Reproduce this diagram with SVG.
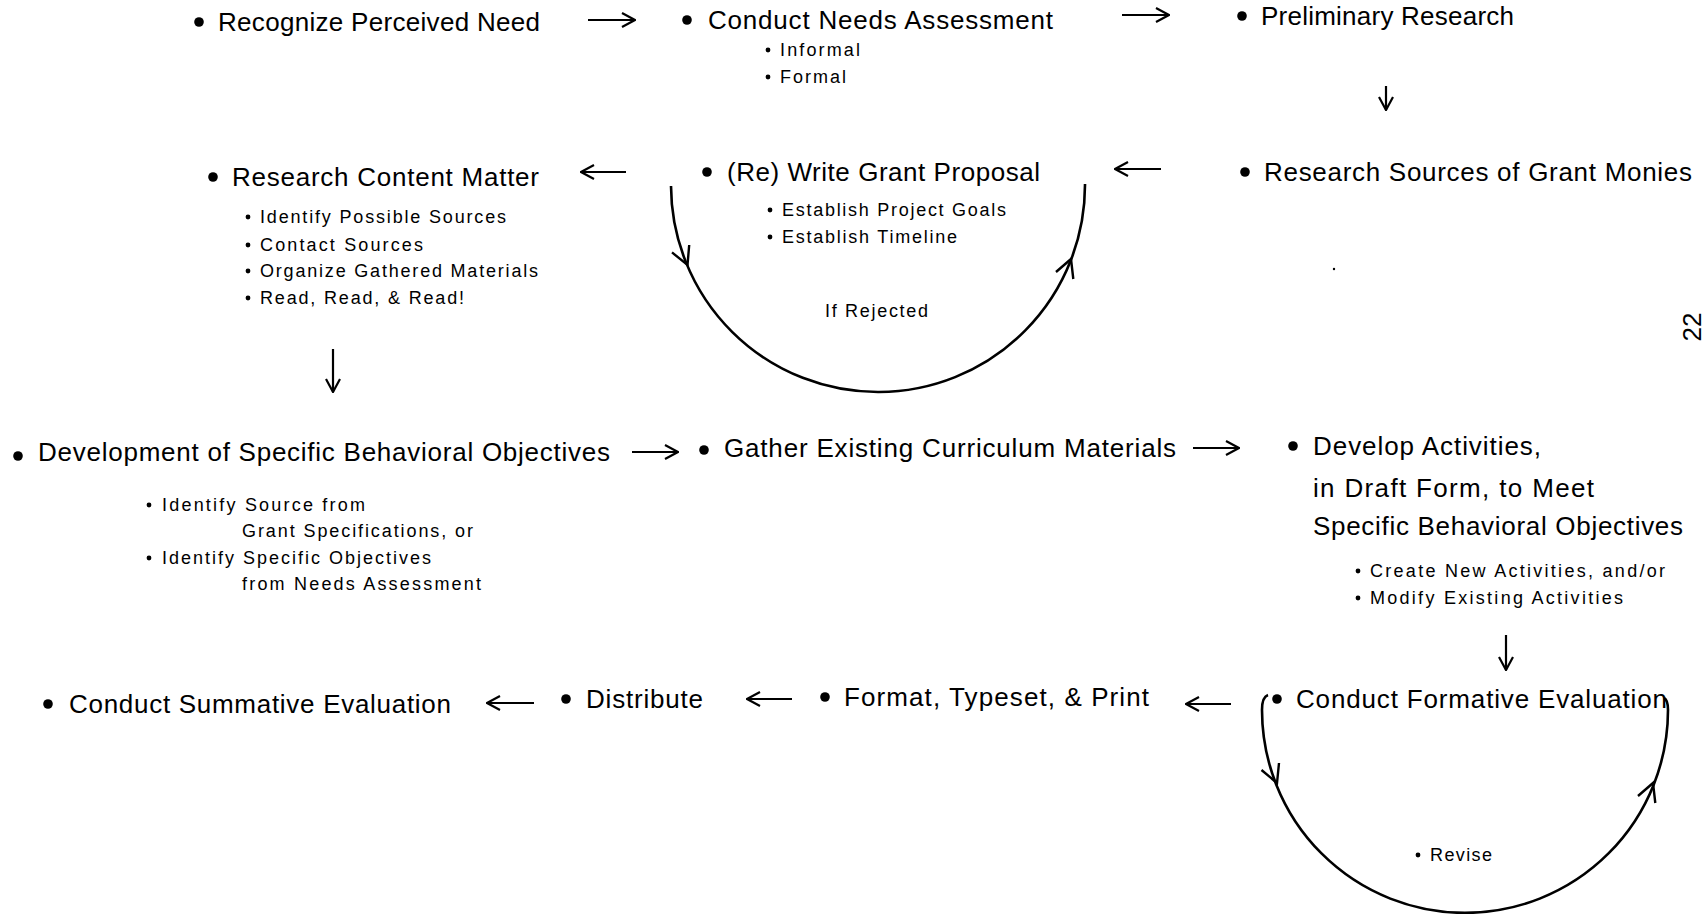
<svg xmlns="http://www.w3.org/2000/svg" width="1708" height="914" viewBox="0 0 1708 914">
<style>
.t{font-family:"Liberation Sans",Arial,sans-serif;font-size:26px;fill:#000}
.s{font-family:"Liberation Sans",Arial,sans-serif;font-size:18px;fill:#000}
.ln{stroke:#000;stroke-width:2.2;fill:none}
.arc{stroke:#000;stroke-width:2.6;fill:none}
.hd{stroke:#000;stroke-width:2.4;fill:none;stroke-linejoin:miter}
.b{fill:#000}
</style>
<defs>
<marker id="chev" viewBox="0 0 15 16" refX="14" refY="8" markerWidth="15" markerHeight="16" markerUnits="userSpaceOnUse" orient="auto">
<path d="M1,1 L14,8 L1,15" fill="none" stroke="#000" stroke-width="2.2"/>
</marker>
</defs>
<rect width="1708" height="914" fill="#fff"/>

<g id="connectors">
<line class="ln" x1="588" y1="20" x2="635" y2="20" marker-end="url(#chev)"/>
<line class="ln" x1="1122" y1="15" x2="1169" y2="15" marker-end="url(#chev)"/>
<line class="ln" x1="1386" y1="86" x2="1386" y2="110" marker-end="url(#chev)"/>
<line class="ln" x1="1161" y1="169" x2="1115" y2="169" marker-end="url(#chev)"/>
<line class="ln" x1="626" y1="172" x2="581" y2="172" marker-end="url(#chev)"/>
<line class="ln" x1="333" y1="349" x2="333" y2="392" marker-end="url(#chev)"/>
<line class="ln" x1="632" y1="452" x2="678" y2="452" marker-end="url(#chev)"/>
<line class="ln" x1="1193" y1="448" x2="1239" y2="448" marker-end="url(#chev)"/>
<line class="ln" x1="1506" y1="635" x2="1506" y2="670" marker-end="url(#chev)"/>
<line class="ln" x1="1231" y1="704" x2="1186" y2="704" marker-end="url(#chev)"/>
<line class="ln" x1="792" y1="699" x2="747" y2="699" marker-end="url(#chev)"/>
<line class="ln" x1="534" y1="703" x2="487" y2="703" marker-end="url(#chev)"/>
<!-- If Rejected loop -->
<path class="arc" d="M 671 186 A 207 207 0 0 0 1085 184"/>
<path class="hd" d="M 689.2 245 L 687.5 265 L 672 252.4"/>
<path class="hd" d="M 1056 272 L 1071 259 L 1073.3 279"/>
<!-- Revise loop -->
<path class="arc" d="M 1268 695 Q 1262 697 1262 710 A 203 203 0 0 0 1668 710 Q 1668 700 1664 698"/>
<path class="hd" d="M 1279 763 L 1277 783 L 1261.5 770"/>
<path class="hd" d="M 1638 796 L 1653 783 L 1655.3 803"/>
</g>

<g id="n1">
<circle class="b" cx="199" cy="22" r="4.8"/>
<text class="t" x="218" y="31" textLength="322">Recognize Perceived Need</text>
</g>
<g id="n2">
<circle class="b" cx="687" cy="20" r="4.8"/>
<text class="t" x="708" y="29" textLength="345">Conduct Needs Assessment</text>
<circle class="b" cx="768" cy="50" r="2.4"/>
<text class="s" x="780" y="56" textLength="80">Informal</text>
<circle class="b" cx="768" cy="77" r="2.4"/>
<text class="s" x="780" y="83" textLength="66">Formal</text>
</g>
<g id="n3">
<circle class="b" cx="1242" cy="16" r="4.8"/>
<text class="t" x="1261" y="25" textLength="253">Preliminary Research</text>
</g>
<g id="n4">
<circle class="b" cx="1245" cy="172" r="4.8"/>
<text class="t" x="1264" y="181" textLength="428">Research Sources of Grant Monies</text>
<circle class="b" cx="1334" cy="269" r="1.2"/>
</g>
<g id="n5">
<circle class="b" cx="707" cy="172" r="4.8"/>
<text class="t" x="727" y="181" textLength="313">(Re) Write Grant Proposal</text>
<circle class="b" cx="770" cy="210" r="2.4"/>
<text class="s" x="782" y="216" textLength="224">Establish Project Goals</text>
<circle class="b" cx="770" cy="237" r="2.4"/>
<text class="s" x="782" y="243" textLength="175">Establish Timeline</text>
<text class="s" x="825" y="317" textLength="103">If Rejected</text>
</g>
<g id="n6">
<circle class="b" cx="213" cy="177" r="4.8"/>
<text class="t" x="232" y="186" textLength="307">Research Content Matter</text>
<circle class="b" cx="248" cy="217" r="2.4"/>
<text class="s" x="260" y="223" textLength="246">Identify Possible Sources</text>
<circle class="b" cx="248" cy="245" r="2.4"/>
<text class="s" x="260" y="251" textLength="163">Contact Sources</text>
<circle class="b" cx="248" cy="271" r="2.4"/>
<text class="s" x="260" y="277" textLength="278">Organize Gathered Materials</text>
<circle class="b" cx="248" cy="298" r="2.4"/>
<text class="s" x="260" y="304" textLength="204">Read, Read, &amp; Read!</text>
</g>
<g id="n7">
<circle class="b" cx="18" cy="456" r="4.8"/>
<text class="t" x="38" y="461" textLength="572">Development of Specific Behavioral Objectives</text>
<circle class="b" cx="149" cy="505" r="2.4"/>
<text class="s" x="162" y="511" textLength="203">Identify Source from</text>
<text class="s" x="242" y="537" textLength="231">Grant Specifications, or</text>
<circle class="b" cx="149" cy="558" r="2.4"/>
<text class="s" x="162" y="564" textLength="269">Identify Specific Objectives</text>
<text class="s" x="242" y="590" textLength="239">from Needs Assessment</text>
</g>
<g id="n8">
<circle class="b" cx="704" cy="450" r="4.8"/>
<text class="t" x="724" y="457" textLength="452">Gather Existing Curriculum Materials</text>
</g>
<g id="n9">
<circle class="b" cx="1293" cy="446" r="4.8"/>
<text class="t" x="1313" y="455" textLength="228">Develop Activities,</text>
<text class="t" x="1313" y="497" textLength="281">in Draft Form, to Meet</text>
<text class="t" x="1313" y="535" textLength="370">Specific Behavioral Objectives</text>
<circle class="b" cx="1358" cy="571" r="2.4"/>
<text class="s" x="1370" y="577" textLength="295">Create New Activities, and/or</text>
<circle class="b" cx="1358" cy="598" r="2.4"/>
<text class="s" x="1370" y="604" textLength="253">Modify Existing Activities</text>
</g>
<g id="n10">
<circle class="b" cx="1277" cy="699" r="4.8"/>
<text class="t" x="1296" y="708" textLength="371">Conduct Formative Evaluation</text>
<circle class="b" cx="1418" cy="855" r="2.4"/>
<text class="s" x="1430" y="861" textLength="62">Revise</text>
</g>
<g id="n11">
<circle class="b" cx="825" cy="697" r="4.8"/>
<text class="t" x="844" y="706" textLength="305">Format, Typeset, &amp; Print</text>
</g>
<g id="n12">
<circle class="b" cx="566" cy="699" r="4.8"/>
<text class="t" x="586" y="708" textLength="117">Distribute</text>
</g>
<g id="n13">
<circle class="b" cx="48" cy="704" r="4.8"/>
<text class="t" x="69" y="713" textLength="382">Conduct Summative Evaluation</text>
</g>
<g id="page">
<text class="t" transform="translate(1701,327) rotate(-90)" text-anchor="middle">22</text>
</g>
</svg>
